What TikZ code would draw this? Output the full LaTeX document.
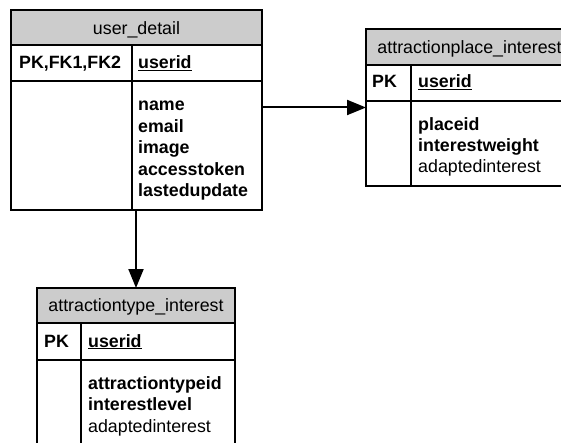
\documentclass[tikz,border=0pt]{standalone}
\usepackage{fontspec}
\setmainfont{Liberation Sans}
\usetikzlibrary{arrows.meta}
\definecolor{hdrgray}{HTML}{CCCCCC}
\begin{document}
\begin{tikzpicture}[x=1pt,y=-1pt,
  part/.style={draw=black, line width=1.1pt, inner sep=0pt, outer sep=0pt, anchor=north west},
  hdr/.style={part, fill=hdrgray},
  whole/.style={inner sep=0pt, outer sep=0pt, anchor=north west},
  divider/.style={draw=black, line width=1.1pt},
  conn/.style={line width=2pt, -{Triangle[length=19pt,width=15pt]}},
  txt/.style={inner sep=0pt, anchor=base west, font=\fontsize{17.8pt}{21pt}\selectfont},
  keytxt/.style={txt, font=\fontsize{17.8pt}{21pt}\selectfont\bfseries},
  title/.style={inner sep=0pt, anchor=base, font=\fontsize{17.8pt}{21pt}\selectfont}]
\useasboundingbox (0,0) rectangle (561,443);
\clip (0,0) rectangle (561,443);

% ---- user_detail ----
\node[whole, minimum width=251pt, minimum height=200pt] (ud) at (11,10) {};
\node[hdr,  minimum width=251pt, minimum height=35pt]  (ud-h) at (11,10) {};
\node[part, minimum width=251pt, minimum height=36pt]  (ud-k) at (11,45) {};
\node[part, minimum width=251pt, minimum height=129pt] (ud-b) at (11,81) {};
\draw[divider] ([xshift=121pt]ud-k.north west) -- ([xshift=121pt]ud-b.south west);
\node[title] (ud-t) at (136.5,35) {user\_detail};
\node[keytxt] (ud-pk) at (19,69) {PK,FK1,FK2};
\node[keytxt] (ud-id) at (138,69) {\underline{userid}};
\node[keytxt] (ud-a1) at (138,111) {name};
\node[keytxt] (ud-a2) at (138,132.5) {email};
\node[keytxt] (ud-a3) at (138,154) {image};
\node[keytxt] (ud-a4) at (138,175.5) {accesstoken};
\node[keytxt] (ud-a5) at (138,197) {lastedupdate};

% ---- attractionplace_interest ----
\node[whole, minimum width=207pt, minimum height=157pt] (ap) at (366,29) {};
\node[hdr,  minimum width=207pt, minimum height=36pt] (ap-h) at (366,29) {};
\node[part, minimum width=207pt, minimum height=36pt] (ap-k) at (366,65) {};
\node[part, minimum width=207pt, minimum height=85pt] (ap-b) at (366,101) {};
\draw[divider] ([xshift=45pt]ap-k.north west) -- ([xshift=45pt]ap-b.south west);
\node[title] (ap-t) at (469.5,54) {attractionplace\_interest};
\node[keytxt] (ap-pk) at (372,88) {PK};
\node[keytxt] (ap-id) at (418,88) {\underline{userid}};
\node[keytxt] (ap-a1) at (418,131) {placeid};
\node[keytxt] (ap-a2) at (418,152) {interestweight};
\node[txt]    (ap-a3) at (418,173) {adaptedinterest};

% ---- attractiontype_interest ----
\node[whole, minimum width=198pt, minimum height=167pt] (at) at (37,288) {};
\node[hdr,  minimum width=198pt, minimum height=35pt] (at-h) at (37,288) {};
\node[part, minimum width=198pt, minimum height=37pt] (at-k) at (37,323) {};
\node[part, minimum width=198pt, minimum height=95pt] (at-b) at (37,360) {};
\draw[divider] ([xshift=44pt]at-k.north west) -- ([xshift=44pt]at-b.south west);
\node[title] (at-t) at (136,311) {attractiontype\_interest};
\node[keytxt] (at-pk) at (44,347) {PK};
\node[keytxt] (at-id) at (88,347) {\underline{userid}};
\node[keytxt] (at-a1) at (88,389) {attractiontypeid};
\node[keytxt] (at-a2) at (88,410.5) {interestlevel};
\node[txt]    (at-a3) at (88,432) {adaptedinterest};

% ---- relationships ----
\draw[conn] (ud.east |- ap.west) -- (ap.west);
\draw[conn] (ud.south -| at.north) -- (at.north);
\end{tikzpicture}
\end{document}
